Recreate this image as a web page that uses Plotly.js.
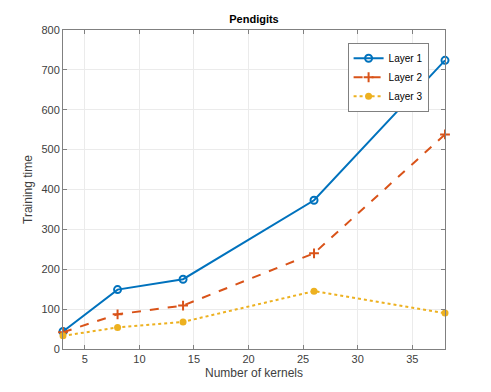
<!DOCTYPE html>
<html>
<head>
    <title>Pendigits</title>
    <style>
        html, body, #plot {
            height: 100%;
            width: 100%;
            margin: 0;
            padding: 0;
            overflow: hidden;
            background: #fff;
        }
    </style>
    <script src="https://cdn.plot.ly/plotly-3.0.1.min.js"></script>
</head>
<body>
<div id="plot"></div>
<script>
    const kernels = [3, 8, 14, 26, 38];
    const layer1 = [44, 149, 175, 373, 724];
    const layer2 = [42, 87, 109, 240, 538];
    const layer3 = [33, 54, 68, 145, 90];
    const xTicks = [5, 10, 15, 20, 25, 30, 35];
    const yTicks = [0, 100, 200, 300, 400, 500, 600, 700, 800];

    const font = 'Liberation Sans, Arial, sans-serif';

    const trace1 = {
        x: kernels, y: layer1, name: 'Layer 1', type: 'scatter', mode: 'lines+markers',
        cliponaxis: false,
        line: {color: '#0072BD', width: 2},
        marker: {symbol: 'circle-open', size: 7, color: '#0072BD', line: {width: 2}}
    };
    const trace2 = {
        x: kernels, y: layer2, name: 'Layer 2', type: 'scatter', mode: 'lines+markers',
        cliponaxis: false,
        line: {color: '#D95319', width: 2, dash: 'dash'},
        marker: {symbol: 'cross-thin-open', size: 7, color: '#D95319', line: {width: 2, color: '#D95319'}}
    };
    const trace3 = {
        x: kernels, y: layer3, name: 'Layer 3', type: 'scatter', mode: 'lines+markers',
        cliponaxis: false,
        line: {color: '#EDB120', width: 2, dash: 'dot'},
        marker: {symbol: 'circle', size: 7, color: '#EDB120'}
    };

    const axisStyle = {
        showline: true,
        linecolor: '#808080',
        linewidth: 1,
        mirror: 'ticks',
        ticks: 'inside',
        ticklen: 4,
        tickcolor: '#808080',
        showgrid: true,
        gridcolor: '#ebebeb',
        zeroline: false,
        tickfont: {family: font, size: 11, color: '#404040'}
    };

    const layout = {
        width: 491,
        height: 392,
        margin: {l: 63, r: 46, t: 30, b: 43},
        paper_bgcolor: '#fff',
        plot_bgcolor: '#fff',
        showlegend: true,
        title: {
            text: '<b>Pendigits</b>',
            font: {family: font, size: 11, color: '#000'},
            x: 0.5, xref: 'paper', y: 0.95, yanchor: 'middle'
        },
        xaxis: Object.assign({}, axisStyle, {
            range: [3, 38],
            tickvals: xTicks,
            title: {text: 'Number of kernels', font: {family: font, size: 12, color: '#404040'}, standoff: 4}
        }),
        yaxis: Object.assign({}, axisStyle, {
            range: [0, 800],
            tickvals: yTicks,
            title: {text: 'Training time', font: {family: font, size: 12, color: '#404040'}, standoff: 6}
        }),
        legend: {
            x: 0.745, y: 0.96, xanchor: 'left', yanchor: 'top',
            bgcolor: '#fff',
            bordercolor: '#808080',
            borderwidth: 1,
            font: {family: font, size: 10, color: '#000'},
            tracegroupgap: 0,
            itemwidth: 30
        }
    };

    Plotly.newPlot('plot', [trace1, trace2, trace3], layout, {displayModeBar: false});
</script>
</body>
</html>
